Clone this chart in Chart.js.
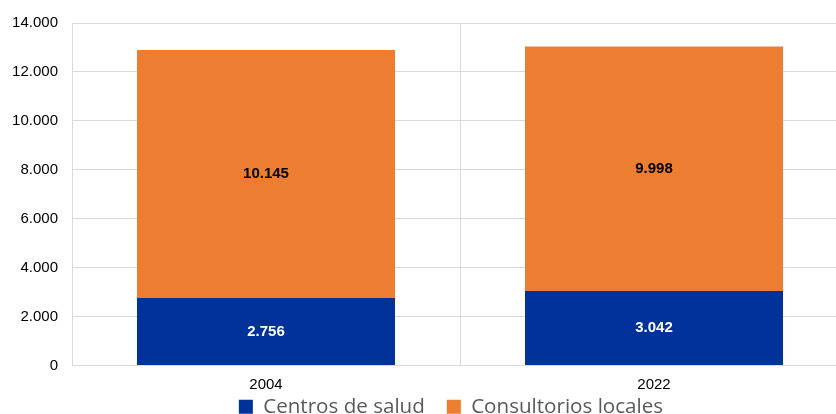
<!DOCTYPE html>
<html>
<head>
<meta charset="utf-8">
<script src="https://cdn.jsdelivr.net/npm/chart.js@4.4.1/dist/chart.umd.min.js"></script>
<style>
  html, body { margin: 0; padding: 0; overflow: hidden; background: #fff; }
  #wrap { position: absolute; left: 0; top: 0; width: 848px; height: 446px; }
</style>
</head>
<body>
<div id="wrap"><canvas id="chart"></canvas></div>
<script>
// Categories and series
const years = ['2004', '2022'];
const centrosDeSalud = [2756, 3042];
const consultoriosLocales = [10145, 9998];
const seriesNames = ['Centros de salud', 'Consultorios locales'];

const BLUE = '#003299';
const ORANGE = '#ED7D31';
const GRID = '#d9d9d9';

// Thousands separator with a dot: 14000 -> "14.000"
function fmt(v) {
  return String(Math.round(v)).replace(/\B(?=(\d{3})+(?!\d))/g, '.');
}

// Writes each segment's value at its centre
const segmentLabels = {
  id: 'segmentLabels',
  afterDatasetsDraw(chart) {
    const ctx = chart.ctx;
    ctx.save();
    ctx.font = 'bold 15px "Liberation Sans", Arial, sans-serif';
    ctx.textAlign = 'center';
    ctx.textBaseline = 'middle';
    chart.data.datasets.forEach((ds, di) => {
      const meta = chart.getDatasetMeta(di);
      meta.data.forEach((bar, i) => {
        const p = bar.getCenterPoint();
        ctx.fillStyle = di === 0 ? '#ffffff' : '#000000';
        ctx.fillText(fmt(ds.data[i]), p.x, p.y);
      });
    });
    ctx.restore();
  }
};

// Pulls the legend up close under the year labels and centres it on the plot
const legendPlace = {
  id: 'legendPlace',
  afterLayout(chart) {
    const lg = chart.legend;
    if (!lg) return;
    const h = lg.bottom - lg.top;
    lg.top = chart.chartArea.bottom + 9;
    lg.bottom = lg.top + h;
    lg.left += 27;
    lg.right += 27;
  }
};

new Chart(document.getElementById('chart'), {
  type: 'bar',
  data: {
    labels: years,
    datasets: [
      { label: seriesNames[0], data: centrosDeSalud, backgroundColor: BLUE },
      { label: seriesNames[1], data: consultoriosLocales, backgroundColor: ORANGE }
    ]
  },
  options: {
    responsive: true,
    maintainAspectRatio: false,
    animation: false,
    layout: { padding: { top: 16, left: 0, right: 0, bottom: 0 } },
    datasets: { bar: { categoryPercentage: 1.0, barPercentage: 0.665 } },
    scales: {
      x: {
        stacked: true,
        grid: { color: GRID, drawTicks: false, offset: true },
        border: { color: GRID },
        ticks: { color: '#000', padding: 10, font: { family: '"Liberation Sans", Arial, sans-serif', size: 15 } },
        afterFit(scale) { scale.height = 28; }
      },
      y: {
        stacked: true,
        min: 0, max: 14000,
        grid: { color: GRID, drawTicks: false },
        border: { color: GRID },
        ticks: {
          stepSize: 2000, color: '#000', padding: 14,
          font: { family: '"Liberation Sans", Arial, sans-serif', size: 15 },
          callback: v => fmt(v)
        },
        afterFit(scale) { scale.width = 72; }
      }
    },
    plugins: {
      legend: {
        position: 'bottom',
        labels: {
          boxWidth: 14, boxHeight: 14, padding: 22,
          color: '#595959',
          font: { family: '"Open Sans", sans-serif', size: 20.6 }
        }
      },
      tooltip: { enabled: false }
    }
  },
  plugins: [segmentLabels, legendPlace]
});
</script>
</body>
</html>
